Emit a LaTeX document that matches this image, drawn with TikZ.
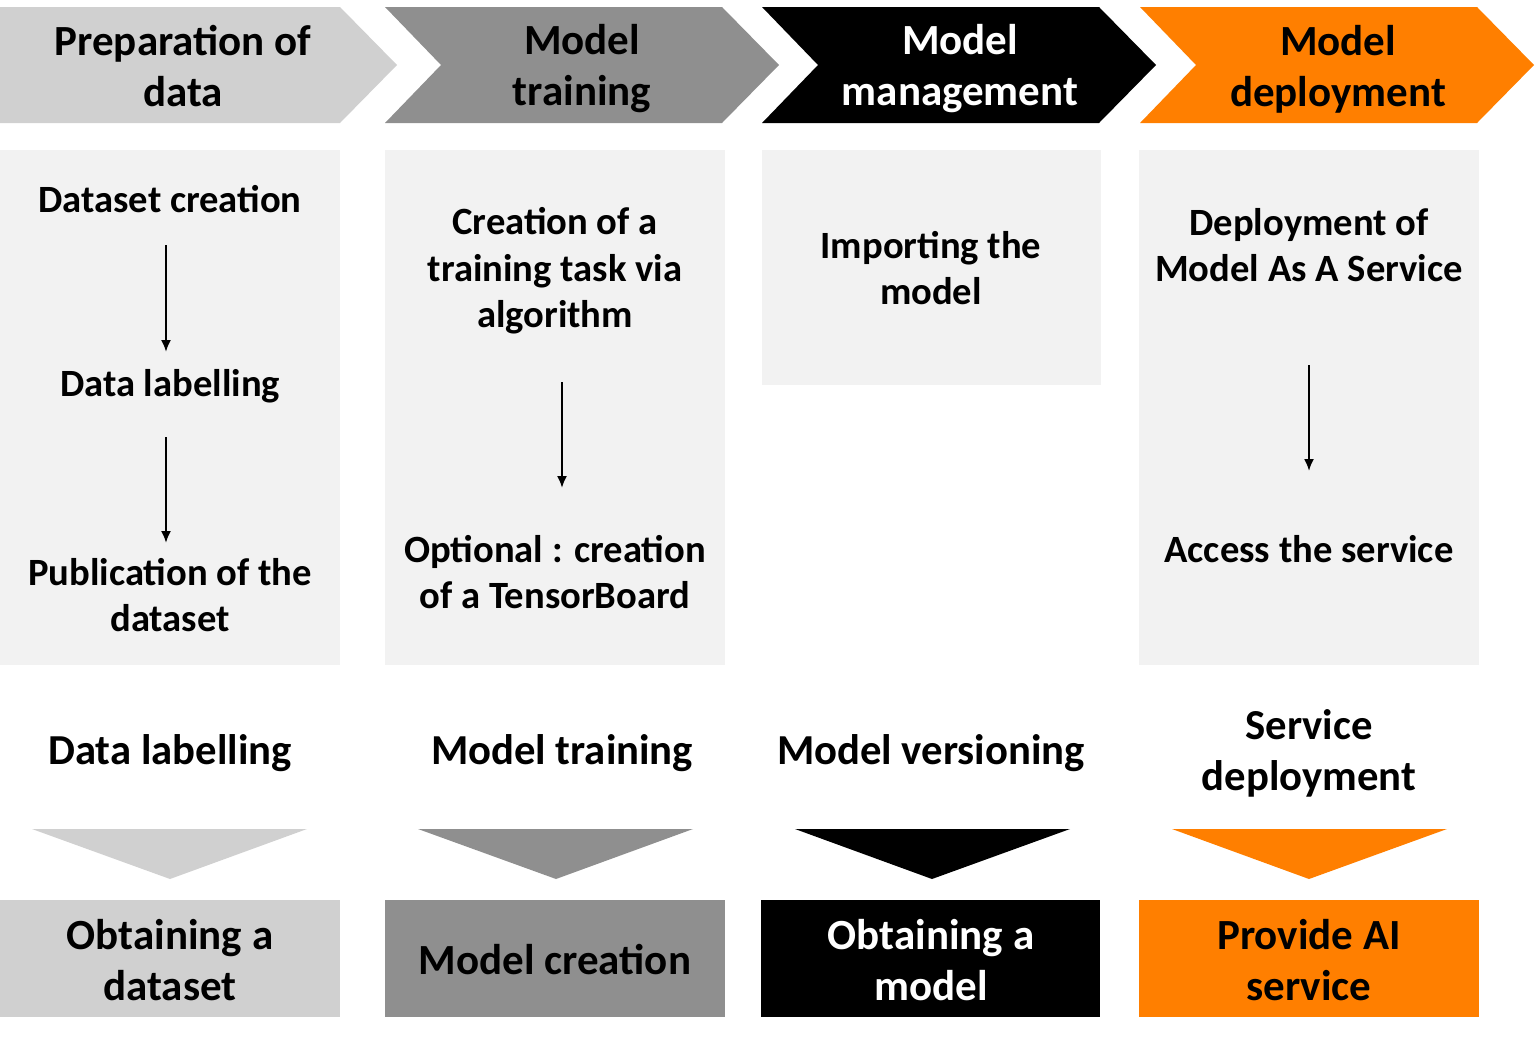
\documentclass[tikz,border=0pt]{standalone}
\usepackage{fontspec}
\setmainfont{Carlito}
\usetikzlibrary{arrows.meta}
\definecolor{lgray}{HTML}{D0D0D0}
\definecolor{mgray}{HTML}{8F8F8F}
\definecolor{pgray}{HTML}{F2F2F2}
\definecolor{orng}{HTML}{FF7F00}
\begin{document}
\begin{tikzpicture}[x=1pt,y=-1pt,
 hdr/.style={font=\fontsize{43}{51}\selectfont\bfseries, align=center, inner sep=0pt},
 body/.style={font=\fontsize{38.6}{46.5}\selectfont\bfseries, align=center, inner sep=0pt},
 lbl/.style={font=\fontsize{42.7}{51}\selectfont\bfseries, align=center, inner sep=0pt},
 arr/.style={-{Latex[length=12pt,width=10pt]}, line width=2pt}]
\useasboundingbox (0,0) rectangle (1536,1036);
% header chevrons
\fill[lgray] (0,7)--(340,7)--(397,65)--(340,123)--(0,123)--cycle;
\fill[mgray] (385,7)--(722,7)--(779,65)--(722,123)--(385,123)--(441,65)--cycle;
\fill[black] (762,7)--(1099,7)--(1156,65)--(1099,123)--(762,123)--(818,65)--cycle;
\fill[orng] (1140,7)--(1477,7)--(1534,65)--(1477,123)--(1140,123)--(1196,65)--cycle;
\node[hdr] (h1) at (183,66) {Preparation of\\data};
\node[hdr] (h2) at (582,69) {Model\\training};
\node[hdr,text=white] (h3) at (960,69) {Model\\management};
\node[hdr] (h4) at (1338,69) {Model\\deployment};
% panels
\fill[pgray] (0,150) rectangle (340,665);
\fill[pgray] (385,150) rectangle (725,665);
\fill[pgray] (762,150) rectangle (1101,385);
\fill[pgray] (1139,150) rectangle (1479,665);
\node[body] (a1) at (170,199) {Dataset creation};
\node[body] (a2) at (170,386) {Data labelling};
\node[body] (a3) at (170,595) {Publication of the\\dataset};
\node[body] (b1) at (555,271) {Creation of a\\training task via\\algorithm};
\node[body] (b2) at (555,572) {Optional : creation\\of a TensorBoard};
\node[body] (c1) at (931,268) {Importing the\\model};
\node[body] (d1) at (1309,245) {Deployment of\\Model As A Service};
\node[body] (d2) at (1309,549) {Access the service};
\draw[arr, shorten <=46pt, shorten >=34pt] ([xshift=-4pt]a1.center) -- ([xshift=-4pt]a2.center);
\draw[arr, shorten <=51pt, shorten >=52pt] ([xshift=-4pt]a2.center) -- ([xshift=-4pt]a3.center);
\draw[arr, shorten <=111pt, shorten >=84pt] ([xshift=7pt]b1.center) -- ([xshift=7pt]b2.center);
\draw[arr, shorten <=120pt, shorten >=78pt] (d1.center) -- (d2.center);
% row labels
\node[lbl] (r1) at (170,753) {Data labelling};
\node[lbl] (r2) at (562,753) {Model training};
\node[lbl] (r3) at (931,753) {Model versioning};
\node[lbl] (r4) at (1309,753) {Service\\deployment};
% triangles
\fill[lgray] (32,829)--(307,829)--(170,879)--cycle;
\fill[mgray] (418,829)--(693,829)--(556,879)--cycle;
\fill[black] (795,829)--(1070,829)--(932,879)--cycle;
\fill[orng] (1172,829)--(1447,829)--(1309,879)--cycle;
% bottom boxes
\fill[lgray] (0,900) rectangle (340,1017);
\fill[mgray] (385,900) rectangle (725,1017);
\fill[black] (761,900) rectangle (1100,1017);
\fill[orng] (1139,900) rectangle (1479,1017);
\node[hdr] (o1) at (170,960) {Obtaining a\\dataset};
\node[hdr] (o2) at (555,960) {Model creation};
\node[hdr,text=white] (o3) at (931,960) {Obtaining a\\model};
\node[hdr] (o4) at (1309,960) {Provide AI\\service};
\end{tikzpicture}
\end{document}
